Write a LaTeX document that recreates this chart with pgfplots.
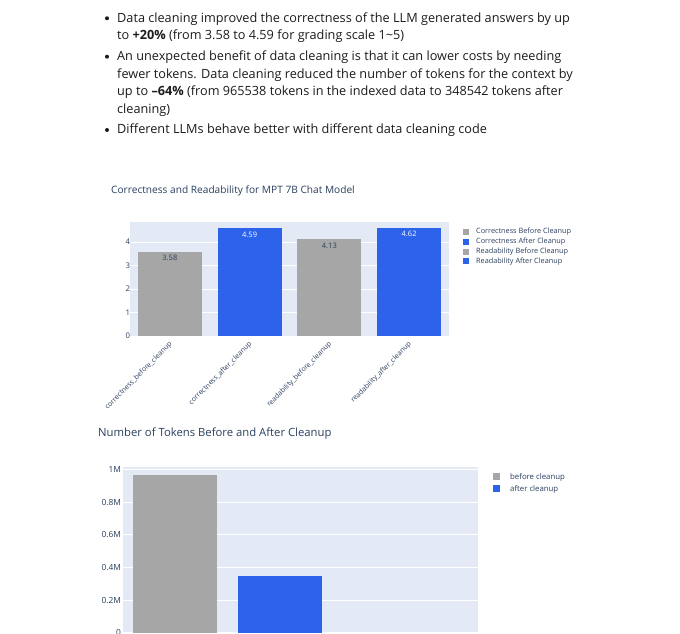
\documentclass[border=0pt]{standalone}
\usepackage{fontspec}
\setmainfont{Open Sans}
\usepackage{pgfplots}
\pgfplotsset{compat=1.18}
\definecolor{pgray}{RGB}{166,166,166}
\definecolor{pblue}{RGB}{45,98,235}
\definecolor{pbg}{RGB}{227,234,245}
\definecolor{ptxt}{RGB}{42,63,95}
\definecolor{btxt}{RGB}{28,28,28}
\newcommand{\bl}{\fontsize{12.7}{15}\selectfont}
\begin{document}
\begin{tikzpicture}[x=1pt,y=1pt]
\useasboundingbox (0,0) rectangle (680,634);
\fill[white] (0,0) rectangle (680,634);
\clip (0,0) rectangle (680,634);
% bullets
\begin{scope}[every node/.style={anchor=base west, inner sep=0pt, font=\bl, text=btxt}]
\fill[btxt] (107,615.7) circle (2);
\node at (117,611.3) {Data cleaning improved the correctness of the LLM generated answers by up};
\node at (117,594) {to \textbf{+20\%} (from 3.58 to 4.59 for grading scale 1\textasciitilde5)};
\fill[btxt] (107,577.3) circle (2);
\node at (117,573) {An unexpected benefit of data cleaning is that it can lower costs by needing};
\node at (117,555.3) {fewer tokens. Data cleaning reduced the number of tokens for the context by};
\node at (117,538) {up to \textbf{--64\%} (from 965538 tokens in the indexed data to 348542 tokens after};
\node at (117,520.7) {cleaning)};
\fill[btxt] (107,504) circle (2);
\node at (117,500) {Different LLMs behave better with different data cleaning code};
\end{scope}
% titles
\node[anchor=base west, inner sep=0pt, font=\fontsize{10.15}{12}\selectfont, text=ptxt] at (111,440.5) {Correctness and Readability for MPT 7B Chat Model};
\node[anchor=base west, inner sep=0pt, font=\fontsize{11.3}{13}\selectfont, text=ptxt] at (98,197.3) {Number of Tokens Before and After Cleanup};

\begin{axis}[
  at={(130pt,298pt)}, anchor=south west, scale only axis,
  width=319pt, height=114pt,
  xmin=-0.5, xmax=3.5, ymin=0, ymax=4.86,
  ybar, bar shift=0pt, bar width=0.8,
  axis background/.style={fill=pbg},
  axis line style={draw=none},
  ymajorgrids, major grid style={white, line width=0.7pt},
  tick style={draw=none},
  ytick={0,1,2,3,4},
  xtick={0,1,2,3},
  xticklabels={correctness\_before\_cleanup, correctness\_after\_cleanup, readability\_before\_cleanup, readability\_after\_cleanup},
  xticklabel style={rotate=45, anchor=north east, font=\fontsize{7}{8}\selectfont, text=ptxt, xshift=2pt, yshift=4pt},
  yticklabel style={font=\fontsize{7.8}{8}\selectfont, text=ptxt, xshift=3.5pt},
  /pgf/number format/assume math mode=true,
  nodes near coords,
  every node near coord/.append style={anchor=north, font=\fontsize{7.5}{8}\selectfont},
  legend style={at={(1,1)}, anchor=north west, xshift=11pt, yshift=-2pt, draw=none, fill=none,
     font=\fontsize{7.3}{8}\selectfont, text=ptxt, row sep=-1.2pt},
  legend cell align=left,
  legend image code/.code={\fill[#1] (0pt,-3pt) rectangle (6pt,3pt); \path (11pt,0pt);},
]
\addplot[fill=pgray, draw=none, every node near coord/.append style={text=ptxt}] coordinates {(0,3.58)};
\addplot[fill=pblue, draw=none, every node near coord/.append style={text=white}] coordinates {(1,4.59)};
\addplot[fill=pgray, draw=none, every node near coord/.append style={text=ptxt}] coordinates {(2,4.13)};
\addplot[fill=pblue, draw=none, every node near coord/.append style={text=white}] coordinates {(3,4.62)};
\legend{Correctness Before Cleanup, Correctness After Cleanup, Readability Before Cleanup, Readability After Cleanup}
\end{axis}

\begin{axis}[
  at={(123pt,1.3pt)}, anchor=south west, scale only axis,
  width=355pt, height=165.7pt,
  xmin=-0.5, xmax=2.886, ymin=0, ymax=1016000,
  ybar, bar shift=0pt, bar width=0.8,
  axis background/.style={fill=pbg},
  axis line style={draw=none},
  ymajorgrids, major grid style={white, line width=0.7pt},
  tick style={draw=none},
  scaled y ticks=false,
  ytick={0,200000,400000,600000,800000,1000000},
  yticklabels={0,0.2M,0.4M,0.6M,0.8M,1M},
  xtick=\empty,
  yticklabel style={font=\fontsize{8.4}{9}\selectfont, text=ptxt, xshift=1.5pt},
  legend style={at={(1,1)}, anchor=north west, xshift=12pt, yshift=-2pt, draw=none, fill=none,
     font=\fontsize{7.8}{8.5}\selectfont, text=ptxt, row sep=0.5pt},
  legend cell align=left,
  legend image code/.code={\fill[#1] (0pt,-3.5pt) rectangle (7pt,3.5pt); \path (15pt,0pt);},
]
\addplot[fill=pgray, draw=none] coordinates {(0,965538)};
\addplot[fill=pblue, draw=none] coordinates {(1,348542)};
\legend{before cleanup, after cleanup}
\end{axis}
\end{tikzpicture}
\end{document}
